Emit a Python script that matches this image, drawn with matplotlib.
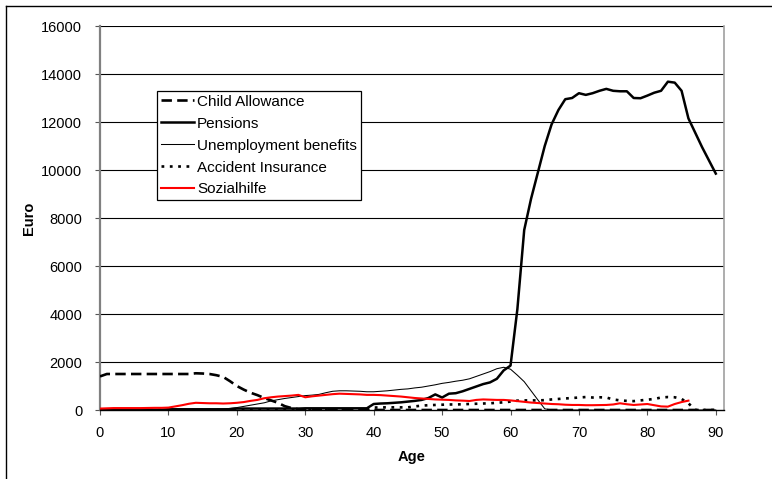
import numpy as np
import matplotlib
matplotlib.use("Agg")
import matplotlib.pyplot as plt
from matplotlib.lines import Line2D

plt.rcParams['font.family'] = ['Liberation Sans', 'DejaVu Sans']
plt.rcParams['lines.scale_dashes'] = False

ages = list(range(0, 91))

child_allowance = [1400] + [1500] * 13 + [1530, 1520, 1500, 1450, 1380, 1200, 1000, 850, 720, 620,
                   500, 400, 300, 160, 80, 30] + [0] * 61

pensions = ([10] * 10 + [30] * 10 + [60] * 10 + [70] * 10 +
            [250, 270, 280, 300, 320, 350, 380, 420, 500, 650,
             520, 680, 700, 780, 880, 980, 1080, 1150, 1300, 1650,
             1850, 4200, 7500, 8800, 9900, 11000, 11900, 12500, 12950, 13000,
             13200, 13130, 13200, 13300, 13380, 13300, 13280, 13280, 13000, 12990,
             13100, 13220, 13300, 13680, 13640, 13300, 12150, 11550, 10950, 10400,
             9850])

unemployment = ([0] * 18 +
                [30, 70, 100, 150, 200, 250, 300, 380, 430, 480, 520, 560,
                 600, 620, 650, 720, 780, 800, 800, 790, 780, 760,
                 760, 780, 800, 830, 860, 880, 920, 950, 1000, 1050,
                 1110, 1150, 1200, 1240, 1300, 1400, 1500, 1600, 1720, 1780,
                 1700, 1450, 1180, 800, 420, 50] + [0] * 25)

accident = ([0] * 36 + [30, 30, 30, 30,
            100, 110, 110, 110, 110, 110, 150, 180, 200, 210,
            220, 230, 230, 240, 250, 260, 270, 280, 300, 320,
            350, 390, 400, 400, 400, 410, 440, 460, 480, 500,
            520, 540, 520, 530, 520, 440, 400, 380, 370, 400,
            430, 460, 520, 540, 530, 460, 280, 0, 0, 0, 0])

sozialhilfe = [60, 70, 80, 80, 80, 80, 80, 85, 90, 90,
               100, 150, 200, 260, 300, 290, 280, 280, 270, 280,
               300, 330, 380, 420, 490, 530, 560, 580, 600, 630,
               530, 570, 600, 630, 660, 680, 670, 660, 650, 630,
               630, 620, 600, 580, 560, 530, 500, 480, 460, 440,
               430, 420, 400, 390, 375, 420, 440, 430, 420, 420,
               400, 370, 340, 310, 290, 270, 250, 240, 220, 210,
               210, 200, 200, 205, 210, 230, 280, 240, 210, 230,
               250, 200, 150, 140, 250, 330, 390]
soz_ages = ages[:len(sozialhilfe)]

x_ticks = [0, 10, 20, 30, 40, 50, 60, 70, 80, 90]
y_ticks = [0, 2000, 4000, 6000, 8000, 10000, 12000, 14000, 16000]

fig = plt.figure(figsize=(7.72, 4.79), dpi=100)
ax = fig.add_axes([100 / 772, 1 - 410 / 479, 624 / 772, 384 / 479])

ax.set_xlim(0, 91.2)
ax.set_ylim(0, 16000)

for yt in y_ticks[1:]:
    ax.axhline(yt, color='black', lw=0.8, zorder=1)

ax.plot(ages, child_allowance, color='black', lw=1.9, dashes=(7.5, 3.8),
        label='Child Allowance', zorder=3, solid_capstyle='butt', dash_capstyle='butt')
ax.plot(ages, pensions, color='black', lw=1.8, label='Pensions', zorder=4)
ax.plot(ages, unemployment, color='black', lw=0.75, label='Unemployment benefits', zorder=4)
ax.plot(ages, accident, color='black', lw=1.9, dashes=(2.0, 4.0),
        label='Accident Insurance', zorder=3, dash_capstyle='butt')
ax.plot(soz_ages, sozialhilfe, color='#ff0000', lw=1.5, label='Sozialhilfe', zorder=5)

ax.set_xticks(x_ticks)
ax.set_yticks(y_ticks)
ax.tick_params(axis='both', direction='out', length=3.8, width=0.8, color='#555555',
               labelsize=10.5)
ax.tick_params(axis='y', pad=9)
ax.tick_params(axis='x', pad=8)

ax.spines['top'].set_visible(False)
ax.spines['left'].set_color('#808080')
ax.spines['left'].set_linewidth(1.6)
ax.spines['right'].set_color('#a0a0a0')
ax.spines['right'].set_linewidth(1.2)
ax.spines['bottom'].set_color('black')
ax.spines['bottom'].set_linewidth(1.0)

ax.set_xlabel('Age', fontsize=10.5, fontweight='bold', labelpad=7)
ax.set_ylabel('Euro', fontsize=10.5, fontweight='bold', labelpad=4)

leg = ax.legend(loc='upper left', bbox_to_anchor=(0.092, 0.831), frameon=True,
                fancybox=False, edgecolor='black', framealpha=1, fontsize=11,
                handlelength=2.15, handletextpad=0.2, labelspacing=0.52,
                borderpad=0.25, borderaxespad=0)
leg.get_frame().set_linewidth(0.9)

fig.add_artist(Line2D([6 / 772, 6 / 772], [0, 1 - 6 / 479], color='black', lw=1.0,
                      transform=fig.transFigure))
fig.add_artist(Line2D([6 / 772, 1], [1 - 6 / 479, 1 - 6 / 479], color='black', lw=1.0,
                      transform=fig.transFigure))

fig.savefig('out.png', dpi=100)
